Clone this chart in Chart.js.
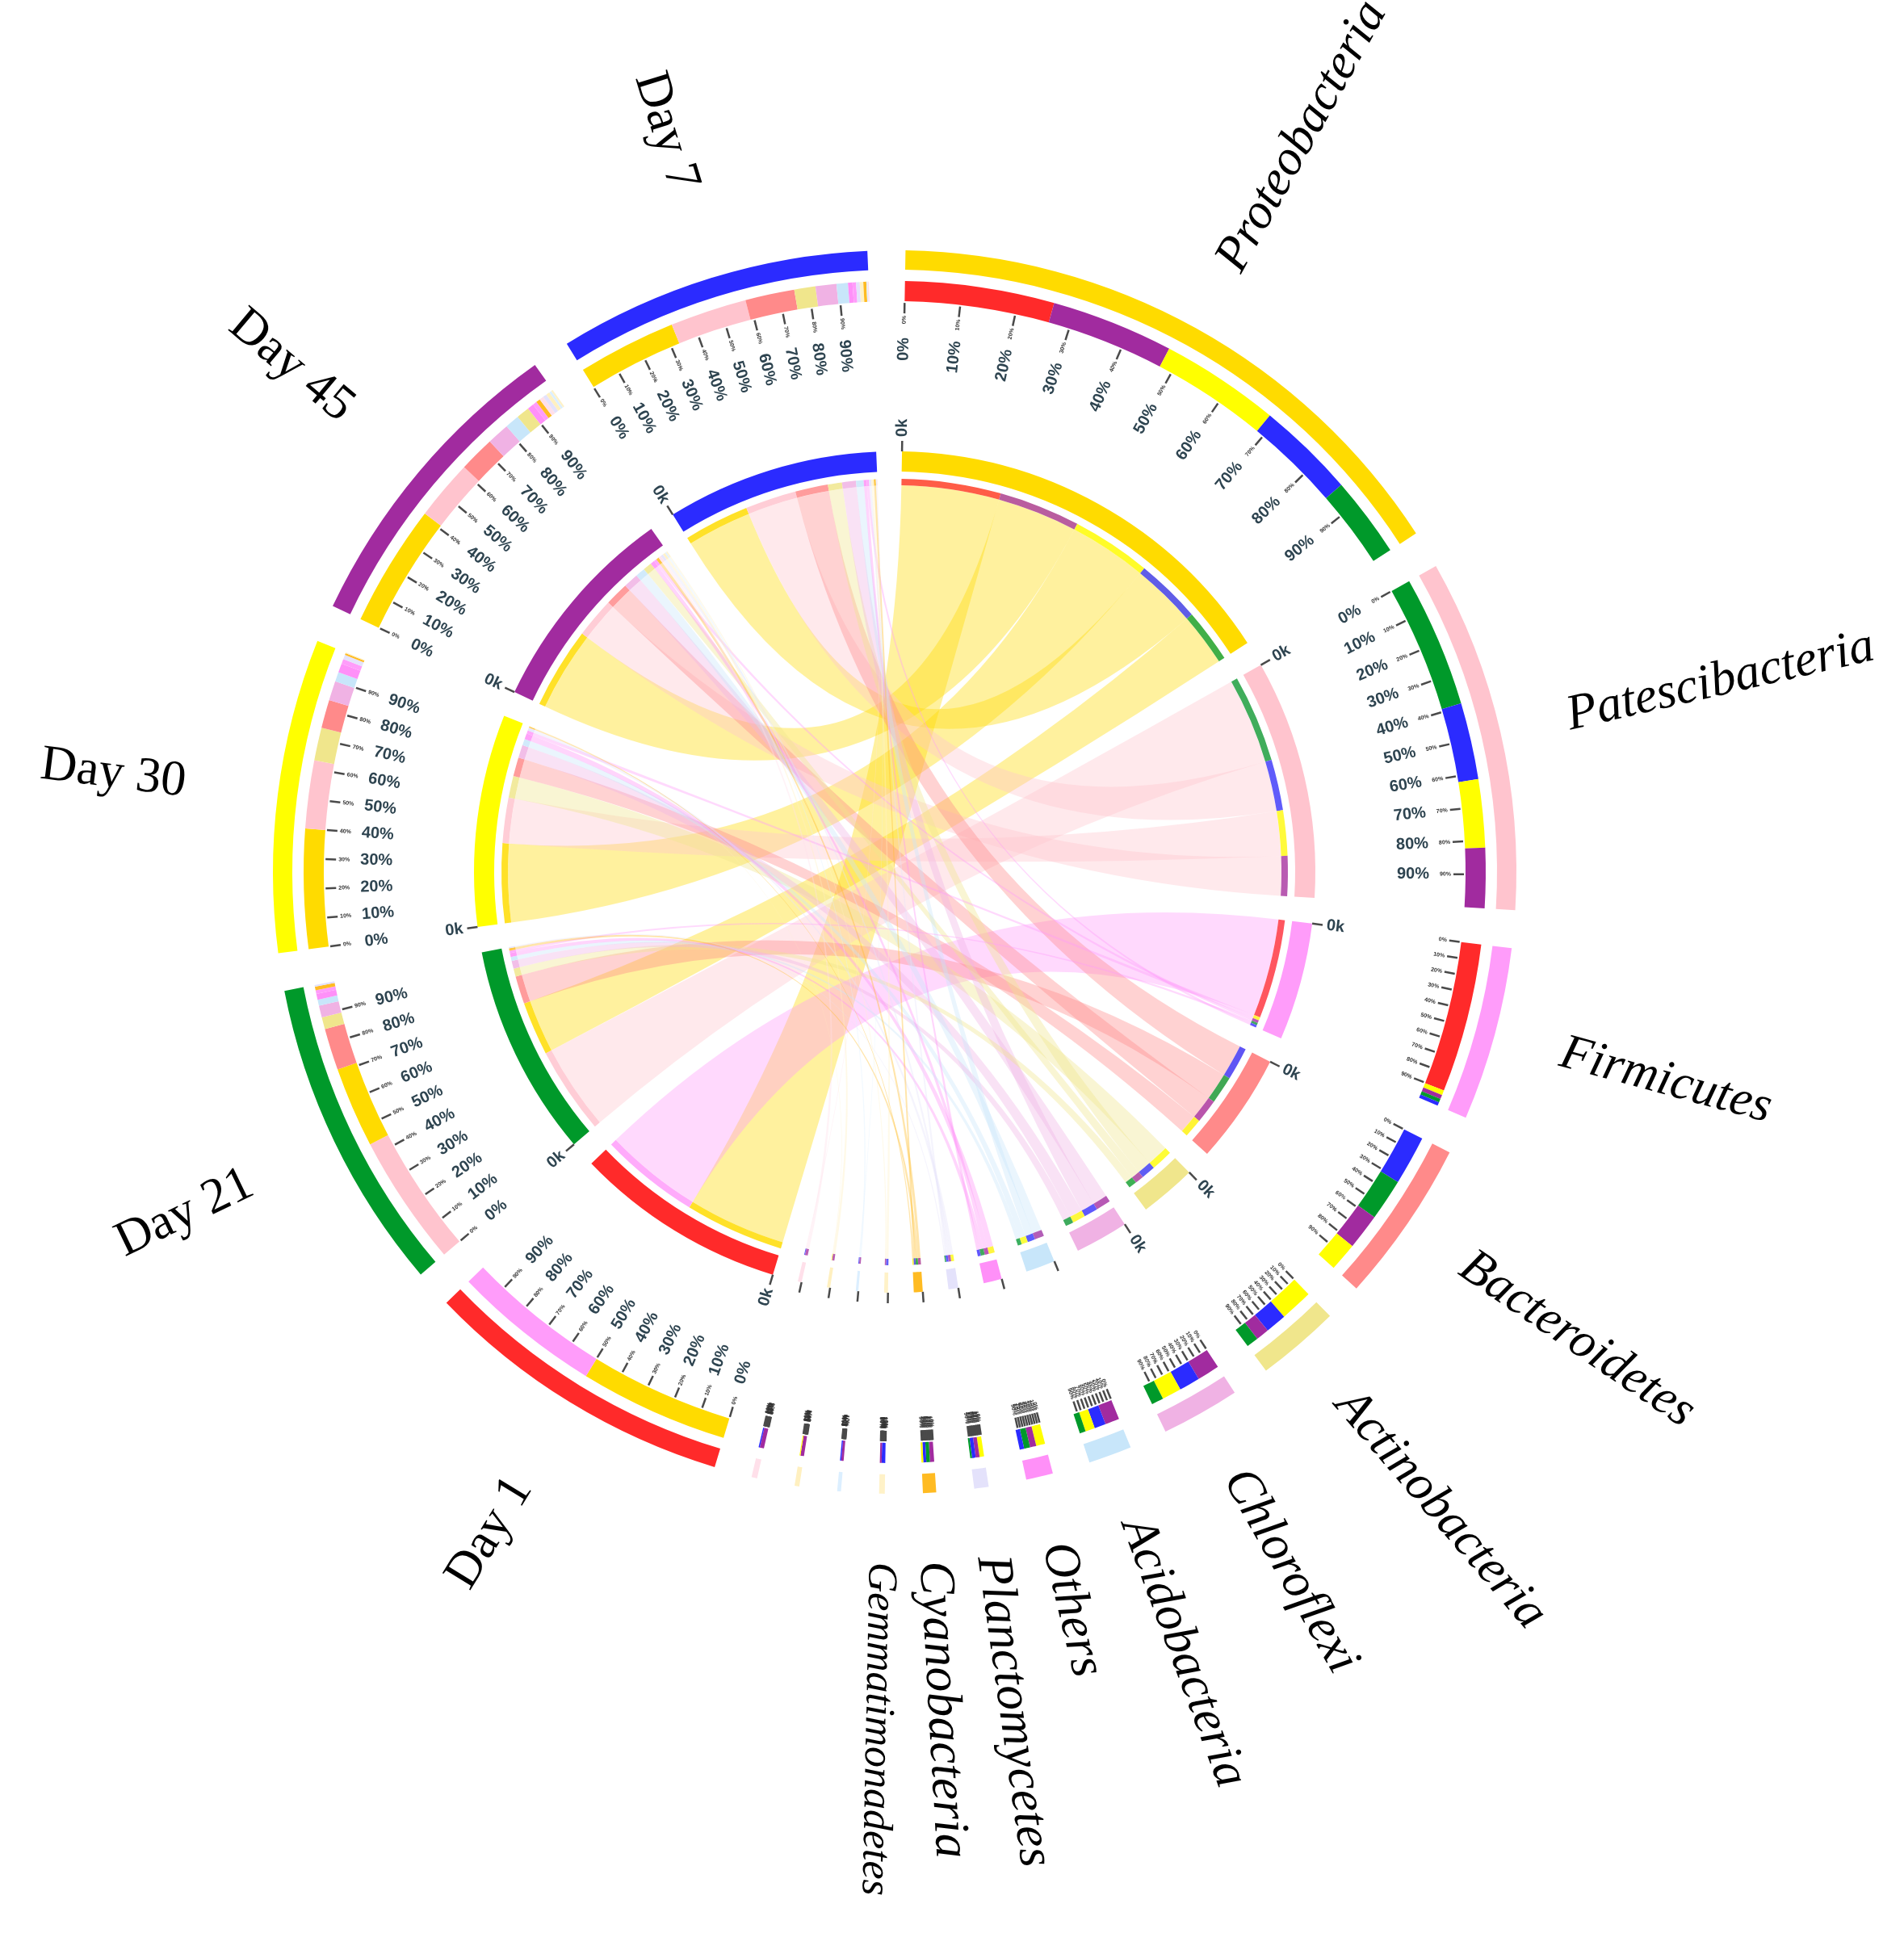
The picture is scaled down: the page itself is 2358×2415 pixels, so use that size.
<!DOCTYPE html>
<html>
<head>
<meta charset="utf-8">
<title>Sample - phylum chord diagram</title>
<script src="https://cdn.jsdelivr.net/npm/chart.js@4.4.1/dist/chart.umd.min.js"></script>
<style>
  html, body { margin: 0; padding: 0; background: #fff; overflow: hidden; }
  canvas { display: block; }
</style>
</head>
<body>
<canvas id="chord" width="2358" height="2415" style="width:2358px;height:2415px"></canvas>
<script>
const days = ['Day 1', 'Day 21', 'Day 30', 'Day 45', 'Day 7'];
const phyla = ['Proteobacteria', 'Patescibacteria', 'Firmicutes', 'Bacteroidetes', 'Actinobacteria',
  'Chloroflexi', 'Acidobacteria', 'Others', 'Planctomycetes', 'Cyanobacteria', 'Gemmatimonadetes', '', '', ''];

// relative abundance (%) of each phylum per sample, columns follow `phyla`
const day1  = [50, 0,    50,  0,    0,   0,   0,   0,   0,   0,   0,   0,   0,   0];
const day21 = [27, 44,   1.2, 14,   4.0, 4.0, 2.0, 2.0, 0.6, 1.2, 0,   0,   0,   0];
const day30 = [40, 22.8, 1.6, 9.5,  11,  6.5, 3.2, 3.0, 1.5, 0.6, 0,   0,   0.3, 0];
const day45 = [41, 20.1, 1.4, 12,   4.4, 7.5, 4.8, 2.1, 1.3, 1.4, 0.6, 0.8, 1.2, 1.4];
const day7  = [33, 25.7, 1.2, 16.5, 7.1, 7.0, 3.8, 1.5, 1.2, 1.0, 1.2, 0.4, 0,   0.4];
const abundance = [day1, day21, day30, day45, day7];

const percentTicks = ['0%', '10%', '20%', '30%', '40%', '50%', '60%', '70%', '80%', '90%'];
const startTick = '0k';

const dayColors = ['#ff2a2a', '#00992a', '#ffff00', '#a12b9f', '#2b2bff'];
const phylumColors = ['#ffdb00', '#ffc4ce', '#ff9cfa', '#ff8a8a', '#f0e68c', '#f0b2e4', '#c8e6fa',
  '#ff90f8', '#e4e2fb', '#ffbb22', '#fff2c8', '#dcefff', '#fff0c0', '#ffe0ea'];

// styling
const GAP = 12;
const CHORD_ALPHA = 0.38;
const BAND_ALPHA = 0.75;
const CLEAR = 'rgba(0,0,0,0)';
const SERIF = '"Liberation Serif", "Times New Roman", serif';
const SANS = '"Liberation Sans", Arial, sans-serif';
const labelSize = { Gemmatimonadetes: 52 };

function hexRgb(h) {
  const n = parseInt(h.slice(1), 16);
  return [n >> 16, (n >> 8) & 255, n & 255];
}
function mix(top, bottom, a) {
  return top.map((v, i) => Math.round(v * a + bottom[i] * (1 - a)));
}
function rgbStr(c, a) {
  return a === undefined ? `rgb(${c[0]},${c[1]},${c[2]})` : `rgba(${c[0]},${c[1]},${c[2]},${a})`;
}

// nodes around the circle: phyla clockwise from the top, then samples
const nodes = [];
phyla.forEach((name, p) => nodes.push({
  label: name, color: phylumColors[p], isDay: false,
  parts: days.map((_, d) => ({ value: abundance[d][p], day: d, phylum: p, color: dayColors[d] }))
}));
days.forEach((name, d) => nodes.push({
  label: name, color: dayColors[d], isDay: true,
  parts: phyla.map((_, p) => ({ value: abundance[d][p], day: d, phylum: p, color: phylumColors[p] }))
}));
nodes.forEach(n => {
  n.parts = n.parts.filter(x => x.value > 0).sort((a, b) => b.value - a.value);
  n.total = n.parts.reduce((s, x) => s + x.value, 0);
});

const ringData = [], ringColors = [], partData = [], partColors = [], bandColors = [];
const links = {};
nodes.forEach(n => {
  n.ringIdx = ringData.length;
  ringData.push(n.total, GAP);
  ringColors.push(n.color, CLEAR);
  n.parts.forEach(pt => {
    const key = pt.day + '-' + pt.phylum;
    links[key] = links[key] || { value: pt.value, phylum: pt.phylum };
    links[key][n.isDay ? 'dayIdx' : 'phyIdx'] = partData.length;
    partData.push(pt.value);
    partColors.push(pt.color);
    const chordRgb = mix(hexRgb(phylumColors[pt.phylum]), [255, 255, 255], CHORD_ALPHA);
    bandColors.push(rgbStr(mix(hexRgb(pt.color), chordRgb, BAND_ALPHA)));
  });
  partData.push(GAP);
  partColors.push(CLEAR);
  bandColors.push(CLEAR);
});

function radialText(ctx, text, c, phi, r, side) {
  const t = ((phi * 180 / Math.PI) % 360 + 360) % 360;
  const flip = t > 95 && t < 270;
  ctx.save();
  ctx.translate(c.x + r * Math.cos(phi), c.y + r * Math.sin(phi));
  ctx.rotate(flip ? phi + Math.PI : phi);
  ctx.textBaseline = 'middle';
  if (side === 'outward') ctx.textAlign = flip ? 'right' : 'left';
  else ctx.textAlign = flip ? 'left' : 'right';
  ctx.fillText(text, 0, 0);
  ctx.restore();
}

function radialLine(ctx, c, a, r0, r1) {
  ctx.beginPath();
  ctx.moveTo(c.x + r0 * Math.cos(a), c.y + r0 * Math.sin(a));
  ctx.lineTo(c.x + r1 * Math.cos(a), c.y + r1 * Math.sin(a));
  ctx.stroke();
}

const BAND = 6;

const chordPlugin = {
  id: 'chords',
  beforeDatasetsDraw(chart) {
    const ctx = chart.ctx;
    const band = chart.getDatasetMeta(BAND).data;
    const x = band[0].x, y = band[0].y, r = band[0].innerRadius;
    ctx.save();
    Object.values(links).sort((a, b) => b.value - a.value).forEach(l => {
      const s = band[l.dayIdx], t = band[l.phyIdx];
      ctx.beginPath();
      ctx.arc(x, y, r, s.startAngle, s.endAngle);
      ctx.quadraticCurveTo(x, y, x + r * Math.cos(t.startAngle), y + r * Math.sin(t.startAngle));
      ctx.arc(x, y, r, t.startAngle, t.endAngle);
      ctx.quadraticCurveTo(x, y, x + r * Math.cos(s.startAngle), y + r * Math.sin(s.startAngle));
      ctx.closePath();
      ctx.fillStyle = rgbStr(hexRgb(phylumColors[l.phylum]), CHORD_ALPHA);
      ctx.fill();
    });
    ctx.restore();
  },
  afterDatasetsDraw(chart) {
    const ctx = chart.ctx;
    const rings = chart.getDatasetMeta(0).data;
    const c = { x: rings[0].x, y: rings[0].y };
    ctx.save();
    nodes.forEach(n => {
      const arc = rings[n.ringIdx];
      const s = arc.startAngle, e = arc.endAngle;
      percentTicks.forEach((txt, k) => {
        const a = s + (e - s) * k / percentTicks.length;
        ctx.strokeStyle = '#4a4a4a';
        ctx.lineWidth = 2.5;
        radialLine(ctx, c, a, 692, 705);
        ctx.fillStyle = '#333';
        ctx.font = 'bold 7px ' + SANS;
        radialText(ctx, txt, c, a, 689, 'inward');
        if (n.total >= 90) {
          ctx.fillStyle = '#2e4450';
          ctx.font = 'bold 20px ' + SANS;
          radialText(ctx, txt, c, a, 662, 'inward');
        }
      });
      ctx.strokeStyle = '#4a4a4a';
      ctx.lineWidth = 2.5;
      radialLine(ctx, c, s, 521, 534);
      if (n.total >= 20) {
        ctx.fillStyle = '#2e4450';
        ctx.font = 'bold 20px ' + SANS;
        radialText(ctx, startTick, c, s, 539, 'outward');
      }
      if (n.label) {
        const size = labelSize[n.label] || 62;
        ctx.fillStyle = '#000';
        ctx.font = (n.isDay ? '' : 'italic ') + size + 'px ' + SERIF;
        radialText(ctx, n.label, c, (s + e) / 2, n.isDay ? 885 : 855, 'outward');
      }
    });
    ctx.restore();
  }
};

const arcStyle = { borderWidth: 0, hoverBorderWidth: 0, offset: 0, hoverOffset: 0 };

new Chart(document.getElementById('chord'), {
  type: 'doughnut',
  data: {
    datasets: [
      { data: ringData.slice(), backgroundColor: ringColors, weight: 24, ...arcStyle },
      { data: ringData.slice(), backgroundColor: CLEAR, weight: 14, ...arcStyle },
      { data: partData.slice(), backgroundColor: partColors, weight: 25, ...arcStyle },
      { data: ringData.slice(), backgroundColor: CLEAR, weight: 186, ...arcStyle },
      { data: ringData.slice(), backgroundColor: ringColors, weight: 25, ...arcStyle },
      { data: ringData.slice(), backgroundColor: CLEAR, weight: 9, ...arcStyle },
      { data: partData.slice(), backgroundColor: bandColors, weight: 8, ...arcStyle }
    ]
  },
  options: {
    responsive: false,
    devicePixelRatio: 1,
    animation: false,
    events: [],
    cutout: 479,
    rotation: 1,
    circumference: 360,
    layout: { padding: { left: 338, top: 310, right: 480, bottom: 565 } },
    elements: { arc: arcStyle },
    plugins: { legend: { display: false }, tooltip: { enabled: false } }
  },
  plugins: [chordPlugin]
});
</script>
</body>
</html>
